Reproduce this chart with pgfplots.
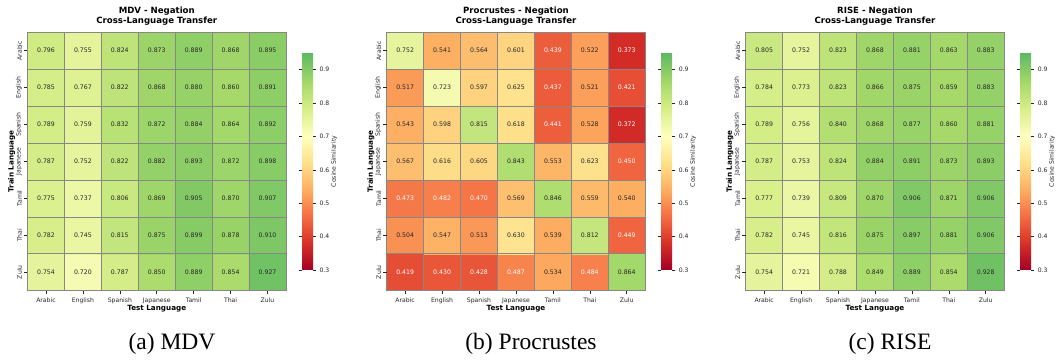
\documentclass[border=0pt]{standalone}
\usepackage{pgfplots}
\pgfplotsset{compat=1.18}
\usepackage{pgfplotstable}
\usepackage{fontspec}
\setmainfont{DejaVu Sans}
\newfontfamily\capfont{Liberation Serif}
\definecolor{txtd}{RGB}{38,38,38}
\definecolor{cellgrid}{RGB}{135,135,135}

\pgfplotstableread{
x y z w
0 0 0.754 0
1 0 0.720 0
2 0 0.787 0
3 0 0.850 0
4 0 0.889 0
5 0 0.854 0
6 0 0.927 0
0 1 0.782 0
1 1 0.745 0
2 1 0.815 0
3 1 0.875 0
4 1 0.899 0
5 1 0.878 0
6 1 0.910 0
0 2 0.775 0
1 2 0.737 0
2 2 0.806 0
3 2 0.869 0
4 2 0.905 0
5 2 0.870 0
6 2 0.907 0
0 3 0.787 0
1 3 0.752 0
2 3 0.822 0
3 3 0.882 0
4 3 0.893 0
5 3 0.872 0
6 3 0.898 0
0 4 0.789 0
1 4 0.759 0
2 4 0.832 0
3 4 0.872 0
4 4 0.884 0
5 4 0.864 0
6 4 0.892 0
0 5 0.785 0
1 5 0.767 0
2 5 0.822 0
3 5 0.868 0
4 5 0.880 0
5 5 0.860 0
6 5 0.891 0
0 6 0.796 0
1 6 0.755 0
2 6 0.824 0
3 6 0.873 0
4 6 0.889 0
5 6 0.868 0
6 6 0.895 0
}\mdv

\pgfplotstableread{
x y z w
0 0 0.419 1
1 0 0.430 1
2 0 0.428 1
3 0 0.487 1
4 0 0.534 0
5 0 0.484 1
6 0 0.864 0
0 1 0.504 0
1 1 0.547 0
2 1 0.513 0
3 1 0.630 0
4 1 0.539 0
5 1 0.812 0
6 1 0.449 1
0 2 0.473 1
1 2 0.482 1
2 2 0.470 1
3 2 0.569 0
4 2 0.846 0
5 2 0.559 0
6 2 0.540 0
0 3 0.567 0
1 3 0.616 0
2 3 0.605 0
3 3 0.843 0
4 3 0.553 0
5 3 0.623 0
6 3 0.450 1
0 4 0.543 0
1 4 0.598 0
2 4 0.815 0
3 4 0.618 0
4 4 0.441 1
5 4 0.528 0
6 4 0.372 1
0 5 0.517 0
1 5 0.723 0
2 5 0.597 0
3 5 0.625 0
4 5 0.437 1
5 5 0.521 0
6 5 0.421 1
0 6 0.752 0
1 6 0.541 0
2 6 0.564 0
3 6 0.601 0
4 6 0.439 1
5 6 0.522 0
6 6 0.373 1
}\procr

\pgfplotstableread{
x y z w
0 0 0.754 0
1 0 0.721 0
2 0 0.788 0
3 0 0.849 0
4 0 0.889 0
5 0 0.854 0
6 0 0.928 0
0 1 0.782 0
1 1 0.745 0
2 1 0.816 0
3 1 0.875 0
4 1 0.897 0
5 1 0.881 0
6 1 0.906 0
0 2 0.777 0
1 2 0.739 0
2 2 0.809 0
3 2 0.870 0
4 2 0.906 0
5 2 0.871 0
6 2 0.906 0
0 3 0.787 0
1 3 0.753 0
2 3 0.824 0
3 3 0.884 0
4 3 0.891 0
5 3 0.873 0
6 3 0.893 0
0 4 0.789 0
1 4 0.756 0
2 4 0.840 0
3 4 0.868 0
4 4 0.877 0
5 4 0.860 0
6 4 0.881 0
0 5 0.784 0
1 5 0.773 0
2 5 0.823 0
3 5 0.866 0
4 5 0.875 0
5 5 0.859 0
6 5 0.883 0
0 6 0.805 0
1 6 0.752 0
2 6 0.823 0
3 6 0.868 0
4 6 0.881 0
5 6 0.863 0
6 6 0.883 0
}\rise

\pgfplotsset{
  colormap={rdylgnc}{rgb255(0cm)=(165,0,38) rgb255(8cm)=(215,48,39) rgb255(16cm)=(244,109,67) rgb255(24cm)=(253,174,97) rgb255(32cm)=(254,224,139) rgb255(40cm)=(255,255,191) rgb255(48cm)=(217,239,139) rgb255(56cm)=(166,217,106) rgb255(64cm)=(102,189,99) rgb255(65cm)=(93,184,97)},
  hm/.style={
    scale only axis, width=258.5pt, height=258.5pt,
    anchor=south west,
    xmin=-0.5, xmax=6.5, ymin=-0.5, ymax=6.5,
    xtick={0,...,6}, ytick={0,...,6},
    xticklabels={Arabic,English,Spanish,Japanese,Tamil,Thai,Zulu},
    yticklabels={Zulu,Thai,Tamil,Japanese,Spanish,English,Arabic},
    minor xtick={-0.5,0.5,...,6.5}, minor ytick={-0.5,0.5,...,6.5},
    xminorgrids, yminorgrids,
    minor grid style={cellgrid, line width=0.6pt},
    minor tick length=0pt,
    axis on top,
    axis line style={draw=none},
    tick align=outside, major tick length=3.5pt,
    tick style={txtd, line width=0.6pt},
    tick pos=left,
    ticklabel style={font=\fontsize{6.1}{7}\selectfont, text=txtd},
    yticklabel style={rotate=90, anchor=south},
    yticklabel shift=-1.5pt,
    xlabel={Test Language}, ylabel={Train Language},
    xlabel shift=-5pt, ylabel shift=-6pt,
    label style={font=\bfseries\fontsize{7.2}{8.6}\selectfont, text=black},
    title style={font=\bfseries\fontsize{8.6}{10.2}\selectfont, align=center, text=black, yshift=-2.5pt},
    colormap name=rdylgnc, point meta min=0.3, point meta max=0.95,
    colorbar right,
    colorbar style={
      scale only axis,
      width=11pt, height=217pt,
      at={(parent axis.east)}, anchor=west, xshift=7.5pt,
      axis line style={draw=none},
      ytick={0.3,0.4,0.5,0.6,0.7,0.8,0.9},
      yticklabels={0.3,0.4,0.5,0.6,0.7,0.8,0.9},
      yticklabel style={font=\fontsize{6.1}{7}\selectfont, text=txtd, rotate=0, anchor=west},
      tick style={txtd, line width=0.6pt}, major tick length=3pt, tick align=outside,
      ylabel={Cosine Similarity},
      ylabel shift=-5pt,
      ylabel style={font=\fontsize{6.1}{7}\selectfont, text=txtd},
    },
  },
  cells/.style={matrix plot*, mesh/cols=7, point meta=explicit},
  nums/.style={only marks, mark=none, point meta=explicit symbolic,
    nodes near coords,
    nodes near coords style={font=\fontsize{6.2}{7}\selectfont, text=#1, anchor=center}},
  numsd/.style={nums=txtd, restrict expr to domain={\thisrow{w}}{-0.5:0.5}},
  numsw/.style={nums=white, restrict expr to domain={\thisrow{w}}{0.5:1.5}},
}

\begin{document}
\begin{tikzpicture}
\useasboundingbox (0,0) rectangle (1058pt,360pt);

\begin{axis}[hm, at={(27.5pt,69.3pt)}, title={MDV - Negation\\Cross-Language Transfer}]
\addplot[cells] table[x=x,y=y,meta=z]{\mdv};
\addplot[numsd] table[x=x,y=y,meta=z]{\mdv};
\end{axis}

\begin{axis}[hm, at={(386.7pt,69.3pt)}, title={Procrustes - Negation\\Cross-Language Transfer}]
\addplot[cells] table[x=x,y=y,meta=z]{\procr};
\addplot[numsd] table[x=x,y=y,meta=z]{\procr};
\addplot[numsw] table[x=x,y=y,meta=z]{\procr};
\end{axis}

\begin{axis}[hm, at={(745.7pt,69.3pt)}, title={RISE - Negation\\Cross-Language Transfer}]
\addplot[cells] table[x=x,y=y,meta=z]{\rise};
\addplot[numsd] table[x=x,y=y,meta=z]{\rise};
\end{axis}

\node[font=\capfont\fontsize{23.5}{28}\selectfont] at (172pt,16pt) {(a) MDV};
\node[font=\capfont\fontsize{23.5}{28}\selectfont] at (531pt,16pt) {(b) Procrustes};
\node[font=\capfont\fontsize{23.5}{28}\selectfont] at (890pt,16pt) {(c) RISE};
\end{tikzpicture}
\end{document}
